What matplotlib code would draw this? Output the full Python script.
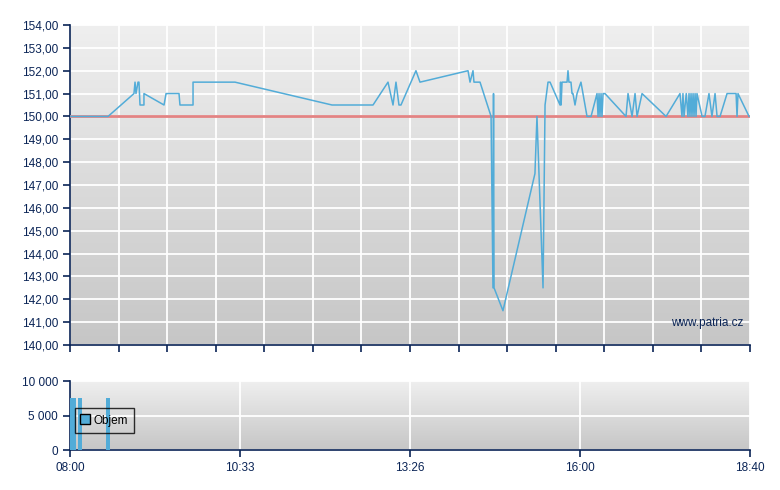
import matplotlib
matplotlib.use('Agg')
import matplotlib.pyplot as plt
import numpy as np

plt.rcParams['font.family'] = ['Liberation Sans', 'DejaVu Sans']

# minutes after 08:00 on the chart's own (evenly spaced) time axis
price_t = [0, 35.8, 60.2, 61.2, 62.1, 64.0, 64.9, 65.9, 69.6, 69.6, 88.5, 90.4,
           102.6, 103.5, 115.8, 115.8, 155.3, 246.6, 285.2, 299.3, 304.0, 306.8,
           309.6, 311.5, 325.6, 329.4, 374.6, 376.5, 379.3, 380.2, 385.9, 396.3,
           398.1, 398.6, 399.1, 407.5, 437.6, 439.5, 445.2, 447.1, 449.9, 451.8,
           461.2, 461.7, 462.2, 463.1, 467.8, 468.7, 469.6, 471.5, 472.5, 473.4,
           475.3, 477.2, 480.9, 482.8, 486.6, 490.4, 496.0, 497.0, 497.9, 498.8,
           499.8, 500.7, 501.7, 503.5, 523.3, 525.2, 529.0, 531.8, 533.7, 538.4,
           561.0, 574.1, 576.0, 576.9, 577.9, 580.0, 581.6, 582.6, 583.5, 584.5,
           585.4, 586.4, 587.3, 588.3, 589.2, 590.1, 594.9, 597.6, 601.4, 604.2,
           607.1, 609.0, 611.8, 618.4, 626.9, 627.8, 628.7, 639.1]
price = [150, 150, 151, 151.5, 151, 151.5, 151.5, 150.5, 150.5, 151, 150.5, 151,
         151, 150.5, 150.5, 151.5, 151.5, 150.5, 150.5, 151.5, 150.5, 151.5,
         150.5, 150.5, 152, 151.5, 152, 151.5, 152, 151.5, 151.5, 150,
         142.5, 151, 142.5, 141.5, 147.5, 150, 142.5, 150.5, 151.5, 151.5,
         150.5, 151.5, 150.5, 151.5, 151.5, 152, 151.5, 151.5, 151, 151,
         150.5, 151, 151.5, 151, 150, 150, 151, 150, 151, 150,
         151, 150, 151, 151, 150, 151, 150, 151, 150, 151,
         150, 151, 150, 151, 150, 151, 150, 151, 150, 151,
         150, 151, 150, 151, 150, 151, 150, 150, 151, 150,
         151, 150, 150, 151, 151, 150, 151, 150]
ref_price = 150.0

vol_t = [1.6, 4.6, 9.4, 35.8]
volume = [7500, 7500, 7500, 7500]

time_labels = ['08:00', '10:33', '13:26', '16:00', '18:40']
y_ticks = np.arange(140, 155, 1)

navy = '#0a2456'
blue = '#52acd8'
grad = np.linspace(0, 1, 256).reshape(-1, 1)


def style(ax):
    ax.imshow(grad, extent=[0, 1, 0, 1], transform=ax.transAxes, aspect='auto',
              cmap=matplotlib.colors.LinearSegmentedColormap.from_list('g', ['#c6c6c6', '#efefef']),
              origin='lower', zorder=0)
    for s in ['top', 'right']:
        ax.spines[s].set_visible(False)
    for s in ['left', 'bottom']:
        ax.spines[s].set_color(navy)
        ax.spines[s].set_linewidth(1.2)
    ax.tick_params(colors=navy, labelcolor=navy, labelsize=8.5, length=5, width=1.2)
    ax.grid(True, color='white', lw=1.3, zorder=1)
    ax.set_axisbelow(True)


fig = plt.figure(figsize=(7.8, 4.9), dpi=100)
ax = fig.add_axes([70 / 780, 1 - 345 / 490, 680 / 780, 320 / 490])
style(ax)
ax.axhline(ref_price, color='#e38383', lw=2, zorder=3)
ax.plot(price_t, price, color=blue, lw=1.1, zorder=4)
ax.set_xlim(0, 640)
ax.set_ylim(140, 154)
ax.set_xticks(np.linspace(0, 640, 15))
ax.set_xticklabels([])
ax.set_yticks(y_ticks)
ax.set_yticklabels(['%d,00' % v for v in y_ticks])
ax.text(0.99, 0.07, 'www.patria.cz', transform=ax.transAxes, ha='right', va='center',
        color=navy, fontsize=8.5, zorder=5)

axv = fig.add_axes([70 / 780, 1 - 450 / 490, 680 / 780, 69 / 490])
style(axv)
axv.bar(vol_t, volume, width=3, color=blue, zorder=3, label='Objem')
axv.set_xlim(0, 640)
axv.set_ylim(0, 10000)
axv.set_xticks(np.linspace(0, 640, 5))
axv.set_xticklabels(time_labels)
axv.set_yticks([0, 5000, 10000])
axv.set_yticklabels(['0', '5 000', '10 000'])
h = [plt.Line2D([], [], marker='s', ls='none', markersize=7, markerfacecolor=blue,
                markeredgecolor='black', markeredgewidth=1)]
leg = axv.legend(h, ['Objem'], loc='lower left', bbox_to_anchor=(0.007, 0.246),
                 frameon=True, fancybox=False, fontsize=8.5, handlelength=0.8,
                 handleheight=1.3, handletextpad=0.3, borderpad=0.5, borderaxespad=0)
leg.get_frame().set_facecolor('none')
leg.get_frame().set_edgecolor('black')
leg.get_frame().set_linewidth(1)
leg.set_zorder(5)

fig.savefig('out.png', dpi=100)
